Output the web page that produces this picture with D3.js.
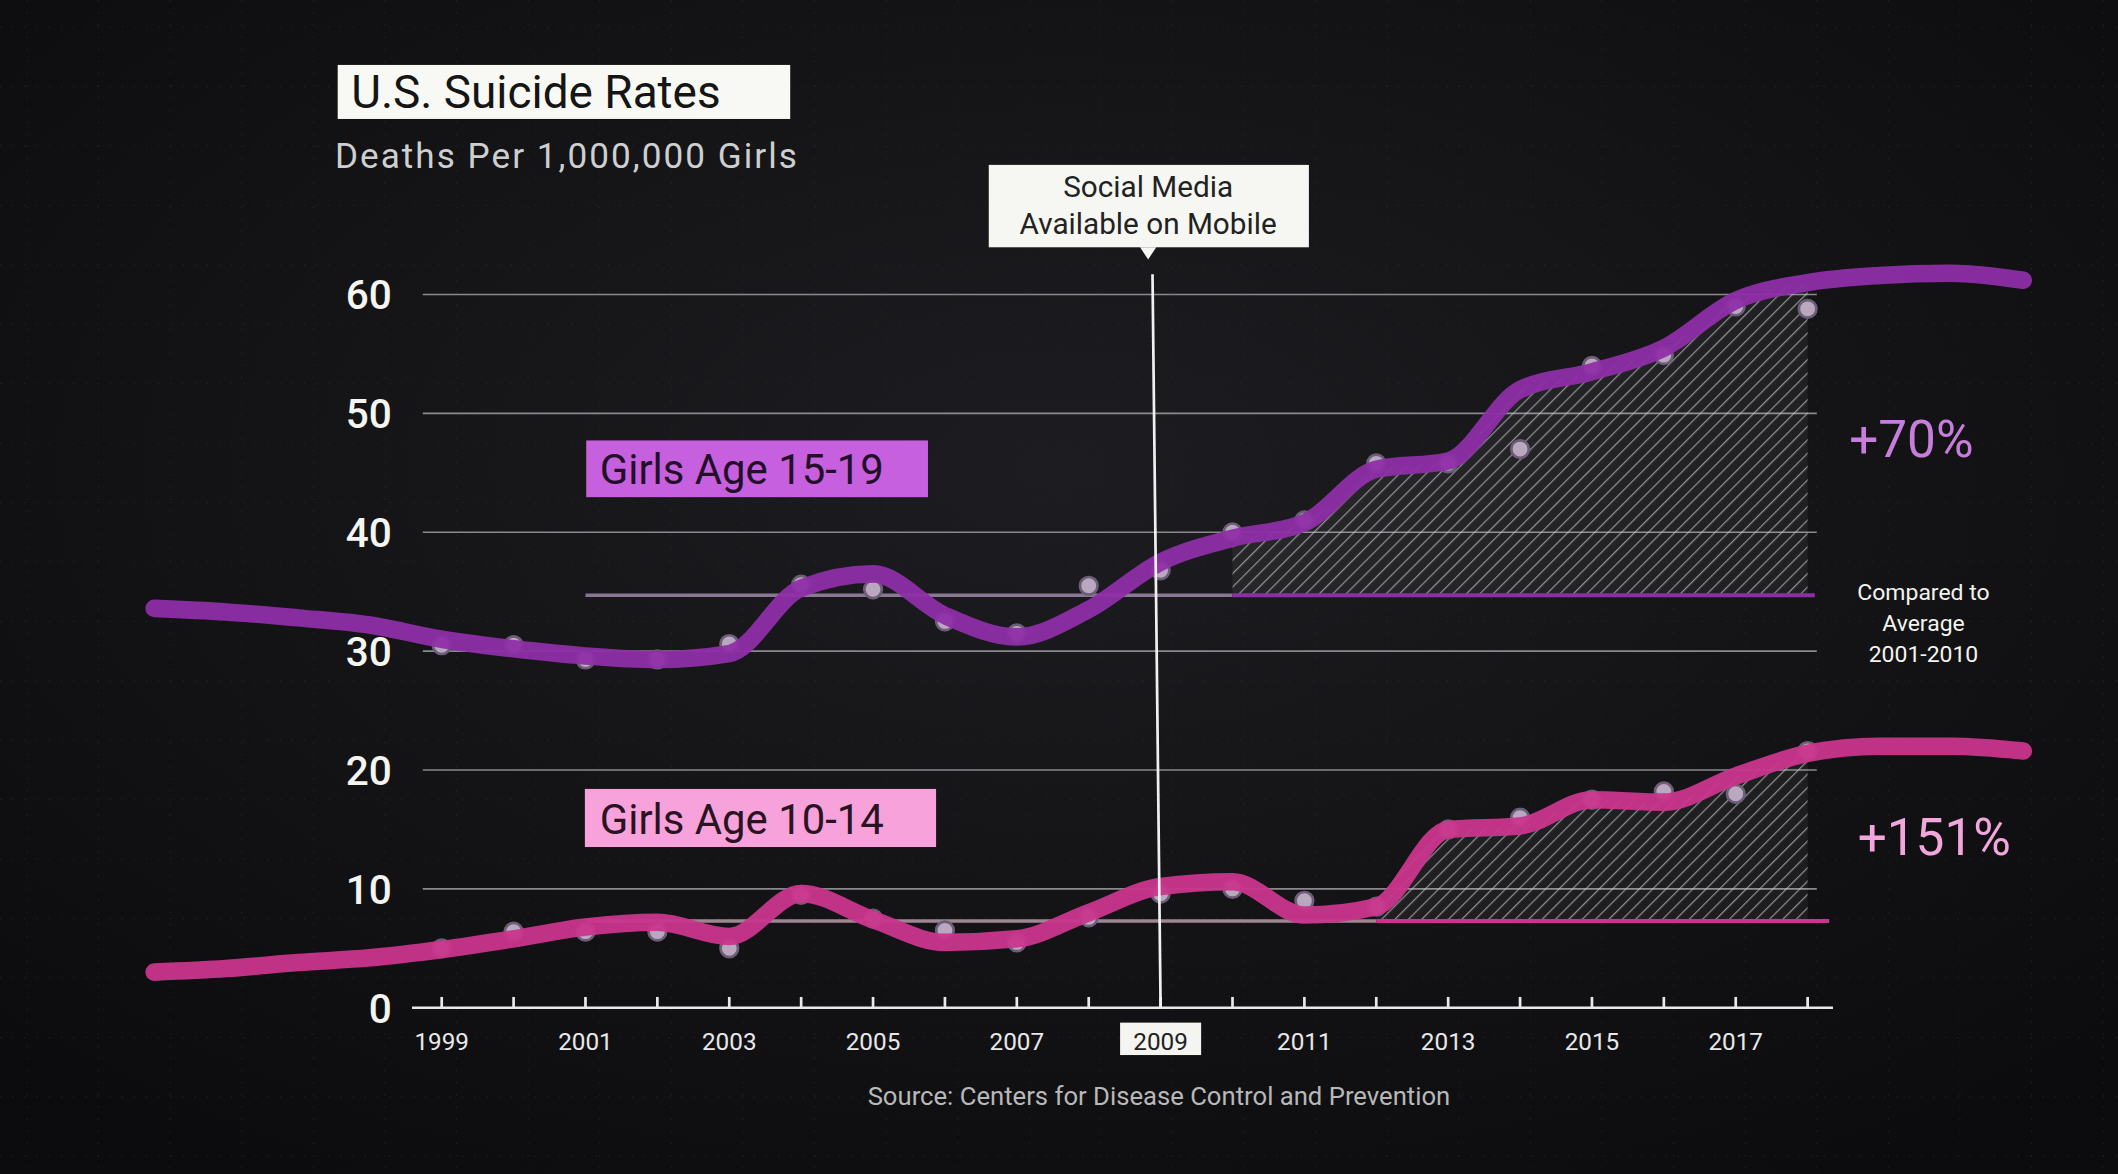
<!DOCTYPE html>
<html><head><meta charset="utf-8">
<script src="https://cdn.jsdelivr.net/npm/d3@7"></script>
<style>
html,body{margin:0;padding:0;background:#111113;overflow:hidden}
text{font-family:Roboto,"DejaVu Sans",sans-serif}
</style></head>
<body><div id="chart"></div>
<script>
// data
const dotYears = d3.range(1999, 2019);
const older = [30.5, 30.5, 29.3, 29.3, 30.6, 35.6, 35.2, 32.5, 31.5, 35.5, 36.8, 40, 41, 45.8, 45.8, 47, 54, 54.9, 59, 58.8];
const younger = [5, 6.4, 6.4, 6.4, 5, 9.5, 7.5, 6.5, 5.5, 7.6, 9.6, 10, 9, 8.5, 15, 16, 17.5, 18.2, 18, 21.6];
const lineYears = d3.range(1995, 2022);
const olderLine = [33.6, 33.3, 32.8, 32.2, 31, 30.2, 29.6, 29.3, 29.8, 35.3, 36.5, 33, 31.2, 33.5, 37.5, 39.5, 40.8, 45.3, 46, 52, 53.5, 55.5, 59.5, 61, 61.6, 61.8, 61.2];
const youngerLine = [3, 3.3, 3.8, 4.2, 4.9, 5.8, 6.8, 7.2, 6, 9.6, 7.4, 5.5, 5.8, 8, 10.2, 10.6, 7.8, 8.5, 15, 15.3, 17.5, 17.3, 19.5, 21.4, 22, 22, 21.6];
const olderAvg = 34.7, youngerAvg = 7.3;
const yTicks = [0, 10, 20, 30, 40, 50, 60];
const xTicks = [1999, 2001, 2003, 2005, 2007, 2009, 2011, 2013, 2015, 2017];

const W = 1568, H = 869;
const svg = d3.select("#chart").append("svg")
    .attr("width", 2118).attr("height", 1174)
    .attr("viewBox", `0 0 ${W} ${H}`);

const x = d3.scaleLinear().domain([1999, 2017]).range([327, 1285]);
const y = d3.scaleLinear().domain([0, 60]).range([746, 218]);

const defs = svg.append("defs");
const bg = defs.append("radialGradient").attr("id", "bg").attr("cx", "50%").attr("cy", "40%").attr("r", "70%");
bg.append("stop").attr("offset", "0%").attr("stop-color", "#1d1d21");
bg.append("stop").attr("offset", "100%").attr("stop-color", "#0c0c0e");
const pat = defs.append("pattern").attr("id", "hatch").attr("patternUnits", "userSpaceOnUse")
    .attr("width", 7).attr("height", 7).attr("patternTransform", "rotate(45)");
pat.append("rect").attr("width", 7).attr("height", 7).attr("fill", "rgba(255,255,255,0.05)");
pat.append("line").attr("x1", 0).attr("y1", 0).attr("x2", 0).attr("y2", 7)
    .attr("stroke", "#c0c2c0").attr("stroke-width", 1.8).attr("stroke-opacity", 0.7);

svg.append("rect").attr("width", W).attr("height", H).attr("fill", "url(#bg)");

// faint background dot grid
for (let gx = 20; gx < W; gx += 53) svg.append("line").attr("x1", gx).attr("x2", gx).attr("y1", 0).attr("y2", H)
    .attr("stroke", "#2a2a30").attr("stroke-width", 0.6).attr("stroke-dasharray", "1 8");
for (let gy = 20; gy < H; gy += 44) svg.append("line").attr("x1", 0).attr("x2", W).attr("y1", gy).attr("y2", gy)
    .attr("stroke", "#2a2a30").attr("stroke-width", 0.6).attr("stroke-dasharray", "1 8");

// gridlines + y labels
yTicks.slice(1).forEach(t => {
    svg.append("line").attr("x1", 313).attr("x2", 1345).attr("y1", y(t)).attr("y2", y(t))
        .attr("stroke", "#8a8a8e").attr("stroke-width", 1.2);
});
yTicks.forEach(t => {
    svg.append("text").attr("x", 290).attr("y", y(t) + 11).attr("text-anchor", "end")
        .attr("fill", "#f4f4f0").attr("font-size", 30).attr("font-weight", 500).text(t);
});

// x axis
svg.append("line").attr("x1", 305).attr("x2", 1357).attr("y1", 746).attr("y2", 746)
    .attr("stroke", "#e8e8e8").attr("stroke-width", 2);
d3.range(1999, 2019).forEach(yr => {
    svg.append("line").attr("x1", x(yr)).attr("x2", x(yr)).attr("y1", 738).attr("y2", 746)
        .attr("stroke", "#e8e8e8").attr("stroke-width", 2);
});
xTicks.forEach(yr => {
    if (yr === 2009) {
        svg.append("rect").attr("x", x(yr) - 30).attr("y", 757).attr("width", 60).attr("height", 24).attr("fill", "#f4f4f0");
    }
    svg.append("text").attr("x", x(yr)).attr("y", 777).attr("text-anchor", "middle")
        .attr("fill", yr === 2009 ? "#222" : "#e8e8e8").attr("font-size", 18).text(yr);
});

const line = d3.line().x((d, i) => x(lineYears[i])).y(d => y(d)).curve(d3.curveMonotoneX);

function series(vals, lineVals, avg, from, hatchFrom, hatchTo, avgTo, color, avgColor) {
    const idx = lineYears.map((yr, i) => i).filter(i => lineYears[i] >= hatchFrom && lineYears[i] <= hatchTo);
    const area = d3.area().x(i => x(lineYears[i])).y0(y(avg)).y1(i => y(lineVals[i])).curve(d3.curveMonotoneX);
    svg.append("path").datum(idx).attr("d", area).attr("fill", "url(#hatch)");
    svg.append("line").attr("x1", x(from)).attr("x2", x(hatchFrom)).attr("y1", y(avg)).attr("y2", y(avg))
        .attr("stroke", avgColor).attr("stroke-width", 2.5).attr("stroke-opacity", 0.7);
    svg.append("line").attr("x1", x(hatchFrom)).attr("x2", x(avgTo)).attr("y1", y(avg)).attr("y2", y(avg))
        .attr("stroke", color).attr("stroke-width", 3);
    svg.selectAll(null).data(vals).enter().append("circle")
        .attr("cx", (d, i) => x(dotYears[i])).attr("cy", d => y(d)).attr("r", 6.5)
        .attr("fill", "#b9a8c0").attr("stroke", "#6d5e78").attr("stroke-width", 2);
    svg.append("path").datum(lineVals).attr("d", line).attr("fill", "none")
        .attr("stroke", color).attr("stroke-width", 13).attr("stroke-linecap", "round").attr("opacity", 0.95);
}
series(older, olderLine, olderAvg, 2001, 2010, 2018, 2018.1, "#8e2ea6", "#b9a0c8");
series(younger, youngerLine, youngerAvg, 2001, 2012, 2018, 2018.3, "#c9358c", "#d8b8c8");

// social media marker
svg.append("line").attr("x1", x(2009) - 6).attr("x2", x(2009)).attr("y1", 203).attr("y2", 746)
    .attr("stroke", "#f0f0f0").attr("stroke-width", 2);
svg.append("rect").attr("x", 732).attr("y", 122).attr("width", 237).attr("height", 61).attr("fill", "#f6f6f2");
svg.append("path").attr("d", "M844,183 L856,183 L850,192 Z").attr("fill", "#f6f6f2");
svg.append("text").attr("x", 850).attr("y", 146).attr("text-anchor", "middle").attr("font-size", 22).attr("fill", "#222").text("Social Media");
svg.append("text").attr("x", 850).attr("y", 173).attr("text-anchor", "middle").attr("font-size", 22).attr("fill", "#222").text("Available on Mobile");

// titles
svg.append("rect").attr("x", 250).attr("y", 48).attr("width", 335).attr("height", 40).attr("fill", "#f8f8f4");
svg.append("text").attr("x", 260).attr("y", 80).attr("font-size", 34).attr("fill", "#151515").text("U.S. Suicide Rates");
svg.append("text").attr("x", 248).attr("y", 124).attr("font-size", 26).attr("fill", "#cfcfcf").attr("letter-spacing", 1.5).text("Deaths Per 1,000,000 Girls");

// series labels
svg.append("rect").attr("x", 434).attr("y", 326).attr("width", 253).attr("height", 42).attr("fill", "#c660de");
svg.append("text").attr("x", 444).attr("y", 358).attr("font-size", 31).attr("fill", "#221028").text("Girls Age 15-19");
svg.append("rect").attr("x", 433).attr("y", 584).attr("width", 260).attr("height", 43).attr("fill", "#f7a2da");
svg.append("text").attr("x", 444).attr("y", 617).attr("font-size", 31).attr("fill", "#2a1422").text("Girls Age 10-14");

svg.append("text").attr("x", 1415).attr("y", 338).attr("text-anchor", "middle").attr("font-size", 38).attr("fill", "#c77ddb").text("+70%");
svg.append("text").attr("x", 1432).attr("y", 633).attr("text-anchor", "middle").attr("font-size", 38).attr("fill", "#f3a6dc").text("+151%");
["Compared to", "Average", "2001-2010"].forEach((t, i) => {
    svg.append("text").attr("x", 1424).attr("y", 444 + i * 23).attr("text-anchor", "middle")
        .attr("font-size", 17).attr("fill", "#f4f4ee").text(t);
});

svg.append("text").attr("x", 858).attr("y", 818).attr("text-anchor", "middle").attr("font-size", 19).attr("fill", "#b8b8b8")
    .text("Source: Centers for Disease Control and Prevention");
</script></body></html>
